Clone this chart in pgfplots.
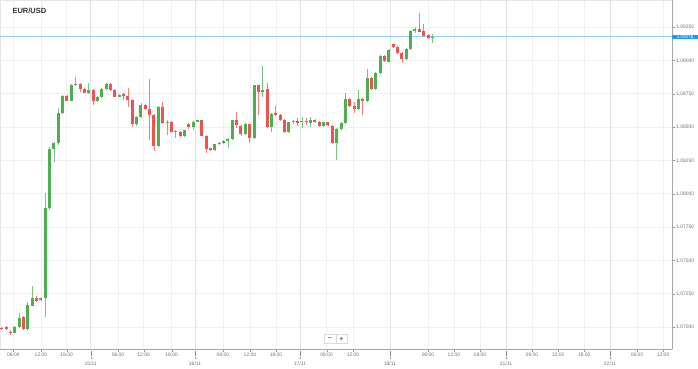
\documentclass[border=0pt]{standalone}
\usepackage{fontspec}
\setmainfont{Liberation Sans}
\usepackage{pgfplots}
\usepackage{pgfplotstable}
\pgfplotsset{compat=1.18}
\definecolor{up}{RGB}{76,175,80}
\definecolor{dn}{RGB}{239,83,80}
\definecolor{pl}{RGB}{144,202,249}
\definecolor{pb}{RGB}{33,150,243}
\definecolor{dg}{RGB}{228,228,228}
\definecolor{lg}{RGB}{240,240,240}

\pgfplotstableread{
i o h l c
4 1.06957 1.07008 1.06953 1.07002
5 1.07002 1.07103 1.06996 1.07065
7 1.06983 1.07190 1.06978 1.07165
8 1.07160 1.07310 1.07154 1.07220
10 1.07203 1.07225 1.07195 1.07215
11 1.07215 1.08005 1.07077 1.07895
12 1.07895 1.08350 1.07878 1.08333
13 1.08333 1.08387 1.08240 1.08378
14 1.08378 1.08643 1.08365 1.08603
15 1.08603 1.08740 1.08598 1.08733
17 1.08697 1.08823 1.08695 1.08815
18 1.08815 1.08873 1.08808 1.08823
21 1.08757 1.08828 1.08751 1.08778
23 1.08693 1.08733 1.08688 1.08723
24 1.08723 1.08793 1.08717 1.08783
25 1.08783 1.08830 1.08778 1.08820
28 1.08727 1.08748 1.08725 1.08740
32 1.08520 1.08583 1.08508 1.08573
33 1.08573 1.08678 1.08568 1.08665
37 1.08357 1.08658 1.08350 1.08652
39 1.08528 1.08553 1.08440 1.08540
41 1.08465 1.08477 1.08415 1.08472
43 1.08432 1.08481 1.08425 1.08477
45 1.08498 1.08545 1.08477 1.08540
46 1.08540 1.08556 1.08534 1.08553
50 1.08328 1.08376 1.08320 1.08373
51 1.08373 1.08387 1.08365 1.08382
52 1.08382 1.08399 1.08376 1.08395
53 1.08395 1.08417 1.08345 1.08408
54 1.08408 1.08556 1.08403 1.08553
57 1.08447 1.08530 1.08440 1.08523
59 1.08415 1.08815 1.08407 1.08813
61 1.08760 1.08958 1.08727 1.08778
63 1.08498 1.08605 1.08465 1.08598
67 1.08460 1.08541 1.08455 1.08535
68 1.08535 1.08553 1.08523 1.08545
70 1.08540 1.08573 1.08490 1.08547
72 1.08532 1.08577 1.08502 1.08553
75 1.08508 1.08541 1.08500 1.08535
78 1.08382 1.08492 1.08253 1.08485
79 1.08485 1.08538 1.08477 1.08532
80 1.08532 1.08753 1.08523 1.08710
83 1.08632 1.08778 1.08628 1.08710
85 1.08695 1.08933 1.08688 1.08865
87 1.08783 1.08913 1.08778 1.08903
88 1.08903 1.09040 1.08898 1.09033
90 1.08990 1.09085 1.08984 1.09078
94 1.09010 1.09089 1.09002 1.09083
95 1.09083 1.09227 1.09077 1.09222
96 1.09222 1.09248 1.09205 1.09235
100 1.09170 1.09198 1.09132 1.09177
}\upT

\pgfplotstableread{
i o h l c
1 1.06990 1.07002 1.06978 1.06983
2 1.07000 1.07010 1.06978 1.06987
3 1.06966 1.06974 1.06940 1.06957
6 1.07073 1.07083 1.06978 1.06983
9 1.07220 1.07232 1.07188 1.07197
16 1.08733 1.08740 1.08695 1.08697
19 1.08823 1.08830 1.08763 1.08785
20 1.08785 1.08793 1.08755 1.08757
22 1.08778 1.08785 1.08665 1.08697
26 1.08820 1.08828 1.08770 1.08778
27 1.08778 1.08785 1.08725 1.08727
29 1.08745 1.08755 1.08703 1.08735
30 1.08735 1.08795 1.08652 1.08703
31 1.08703 1.08710 1.08497 1.08520
34 1.08665 1.08673 1.08628 1.08635
35 1.08635 1.08860 1.08403 1.08590
36 1.08590 1.08598 1.08322 1.08357
38 1.08652 1.08685 1.08523 1.08528
40 1.08540 1.08547 1.08459 1.08465
42 1.08465 1.08470 1.08425 1.08432
44 1.08520 1.08530 1.08485 1.08498
47 1.08553 1.08556 1.08429 1.08435
48 1.08435 1.08440 1.08307 1.08333
49 1.08340 1.08346 1.08320 1.08328
55 1.08553 1.08613 1.08493 1.08515
56 1.08510 1.08515 1.08432 1.08447
58 1.08520 1.08526 1.08382 1.08415
60 1.08813 1.08815 1.08590 1.08760
62 1.08785 1.08828 1.08493 1.08498
64 1.08603 1.08660 1.08583 1.08590
65 1.08590 1.08598 1.08545 1.08553
66 1.08553 1.08560 1.08455 1.08460
69 1.08543 1.08565 1.08508 1.08532
71 1.08545 1.08565 1.08515 1.08538
73 1.08553 1.08560 1.08530 1.08540
74 1.08540 1.08545 1.08500 1.08508
76 1.08535 1.08540 1.08508 1.08515
77 1.08510 1.08515 1.08376 1.08382
81 1.08710 1.08718 1.08650 1.08660
82 1.08660 1.08690 1.08605 1.08632
84 1.08710 1.08718 1.08590 1.08695
86 1.08865 1.08875 1.08778 1.08783
89 1.09033 1.09040 1.08988 1.08995
91 1.09120 1.09126 1.09096 1.09102
92 1.09102 1.09107 1.09051 1.09057
93 1.09057 1.09063 1.08978 1.09010
97 1.09235 1.09353 1.09209 1.09215
98 1.09222 1.09272 1.09179 1.09185
99 1.09190 1.09198 1.09160 1.09165
}\dnT

\begin{document}
\begin{tikzpicture}[x=1pt,y=1pt]
\useasboundingbox (0,0) rectangle (698,-368);
\begin{axis}[
  at={(0,0)}, anchor=north west,
  width=672pt, height=349pt, scale only axis,
  xmin=0.609, xmax=155.09, ymin=1.06835, ymax=1.094525,
  clip mode=individual,
  axis line style={draw=black!10},
  ytick={1.07,1.0725,1.075,1.0775,1.08,1.0825,1.085,1.0875,1.09,1.0925},
  ytick pos=right, yticklabel pos=right,
  scaled y ticks=false,
  /pgf/number format/assume math mode=true,
  yticklabel={\pgfmathprintnumber[fixed,fixed zerofill,precision=5]{\tick}},
  xtick pos=bottom,
  xtick={3.67,10.03,15.94,27.74,33.64,40.08,51.87,58.08,64.06,75.71,81.76,99.0,104.97,110.95,122.9,128.9,134.9,147.05,153.03},
  xticklabels={06:00,12:00,18:00,06:00,12:00,18:00,06:00,12:00,18:00,06:00,12:00,06:00,12:00,18:00,06:00,12:00,18:00,06:00,12:00},
  extra x ticks={21.46,45.44,69.57,90.26,116.93,140.84},
  extra x tick labels={15/11,16/11,17/11,19/11,21/11,22/11},
  extra x tick style={major tick length=9pt,
     tick style={black!45, densely dotted}, xticklabel style={yshift=-2.5pt},
     major grid style={draw=dg, solid, line width=0.6pt}},
  tick align=outside, major tick length=3pt,
  tick style={black!40},
  ticklabel style={font=\fontsize{5}{6}\selectfont, text=black!55},
  xticklabel style={inner sep=1pt},
  yticklabel style={inner sep=1pt},
  xmajorgrids, ymajorgrids, major grid style={draw=lg, line width=0.6pt},
]
\addplot[pl, line width=0.8pt, forget plot] coordinates {(0.609,1.09176) (155.09,1.09176)};
% wicks
\addplot[draw=none, mark=none, forget plot, error bars/.cd, y dir=plus, y explicit, error mark=none,
  error bar style={line width=0.7pt, draw=up!75!white}]
  table[x=i, y=l, y error plus expr=\thisrow{h}-\thisrow{l}] {\upT};
\addplot[draw=none, mark=none, forget plot, error bars/.cd, y dir=plus, y explicit, error mark=none,
  error bar style={line width=0.7pt, draw=dn!75!white}]
  table[x=i, y=l, y error plus expr=\thisrow{h}-\thisrow{l}] {\dnT};
% bodies
\addplot[draw=none, mark=none, forget plot, error bars/.cd, y dir=plus, y explicit, error mark=none,
  error bar style={line width=3pt, draw=up}]
  table[x=i, y=o, y error plus expr=\thisrow{c}-\thisrow{o}] {\upT};
\addplot[draw=none, mark=none, forget plot, error bars/.cd, y dir=plus, y explicit, error mark=none,
  error bar style={line width=3pt, draw=dn}]
  table[x=i, y=c, y error plus expr=\thisrow{o}-\thisrow{c}] {\dnT};
\draw[black!35] (rel axis cs:1,0) -- (rel axis cs:1,1);
\draw[black!35] (rel axis cs:0,0) -- (rel axis cs:1,0);
\node[fill=pb, text=white, anchor=west, inner xsep=1pt, inner ysep=0.7pt, minimum width=26pt,
  font=\fontsize{4.6}{5}\selectfont] at (axis cs:155.09,1.09176) {1.09176};
\end{axis}
\node[anchor=west, font=\fontsize{7.5}{8}\selectfont\bfseries, text=black!80] at (9,-11) {EUR/USD};
\node[draw=black!15, fill=white, minimum width=11.5pt, minimum height=9pt, inner sep=0pt,
  font=\fontsize{7}{7}\selectfont\bfseries, text=black!60] at (330,-339) {−};
\node[draw=black!15, fill=white, minimum width=11.5pt, minimum height=9pt, inner sep=0pt,
  font=\fontsize{7}{7}\selectfont\bfseries, text=black!60] at (341.5,-339) {+};
\end{tikzpicture}
\end{document}
